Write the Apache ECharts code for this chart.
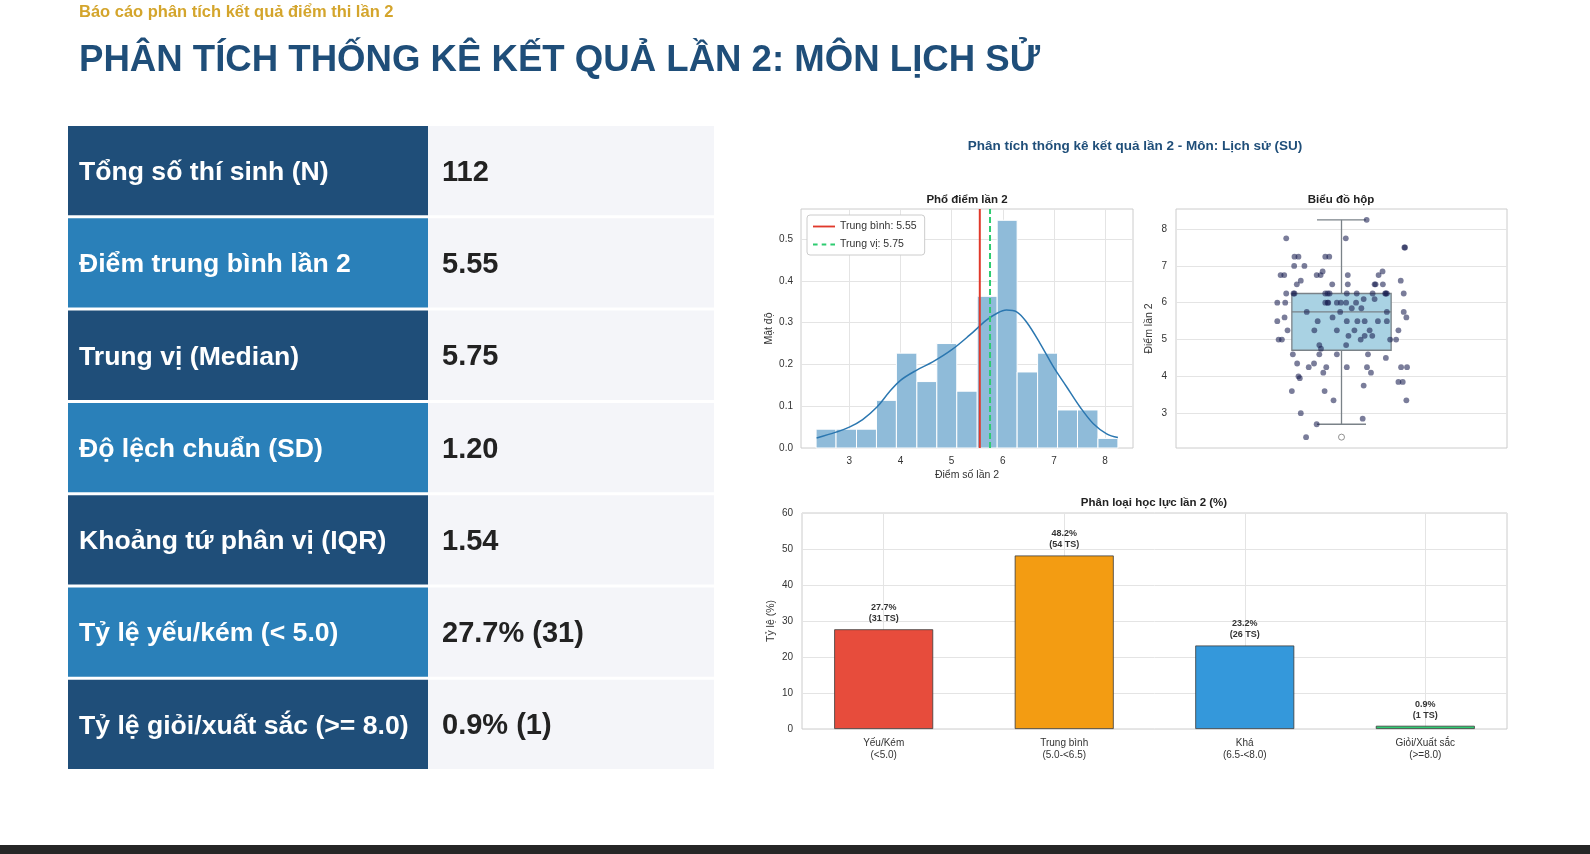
<!DOCTYPE html>
<html>
<head>
<meta charset="utf-8">
<script src="https://cdn.jsdelivr.net/npm/echarts@6/dist/echarts.min.js"></script>
<style>
html, body { margin: 0; padding: 0; background: #fff; }
#main { width: 1590px; height: 854px; }
</style>
</head>
<body>
<div id="main"></div>
<script>
var FONT = '"Liberation Sans", Arial, sans-serif';

// header texts
var subTitle = 'Báo cáo phân tích kết quả điểm thi lần 2';
var pageTitle = 'PHÂN TÍCH THỐNG KÊ KẾT QUẢ LẦN 2: MÔN LỊCH SỬ';
var figTitle = 'Phân tích thống kê kết quả lần 2 - Môn: Lịch sử (SU)';

// summary table
var statLabels = ['Tổng số thí sinh (N)', 'Điểm trung bình lần 2', 'Trung vị (Median)',
  'Độ lệch chuẩn (SD)', 'Khoảng tứ phân vị (IQR)', 'Tỷ lệ yếu/kém (< 5.0)', 'Tỷ lệ giỏi/xuất sắc (>= 8.0)'];
var statValues = ['112', '5.55', '5.75', '1.20', '1.54', '27.7% (31)', '0.9% (1)'];

// histogram (density) + kde
var binEdges = [2.35, 2.74, 3.14, 3.53, 3.92, 4.32, 4.71, 5.10, 5.50, 5.89, 6.28, 6.68, 7.07, 7.46, 7.86, 8.25];
var binDensity = [0.045, 0.045, 0.045, 0.114, 0.227, 0.159, 0.25, 0.136, 0.363, 0.545, 0.182, 0.227, 0.091, 0.091, 0.023];
var kdeX = [2.36, 2.74, 3.0, 3.26, 3.54, 3.78, 4.0, 4.31, 4.63, 4.99, 5.35, 5.68, 5.88, 6.07, 6.27, 6.46, 6.73, 6.99, 7.25, 7.51, 7.77, 8.03, 8.25];
var kdeY = [0.024, 0.038, 0.05, 0.068, 0.098, 0.134, 0.162, 0.186, 0.206, 0.234, 0.27, 0.306, 0.322, 0.33, 0.326, 0.302, 0.25, 0.194, 0.146, 0.098, 0.058, 0.034, 0.025];
var meanScore = 5.55;
var medianScore = 5.75;
var histTicksX = [3, 4, 5, 6, 7, 8];
var histTicksY = [0, 0.1, 0.2, 0.3, 0.4, 0.5];

// box plot + strip points
var boxQ1 = 4.71, boxMedian = 5.75, boxQ3 = 6.25, whiskerLow = 2.7, whiskerHigh = 8.25;
var outliers = [2.35];
var stripScores = [2.35, 2.70, 2.85, 3.00, 3.35, 3.35, 3.60, 3.60, 3.75, 3.85, 3.85,
  4.00, 3.95, 4.25, 4.25, 4.25, 4.25, 4.25, 4.25, 4.10, 4.10,
  4.35, 4.35, 4.60, 4.60, 4.60, 4.60, 4.50,
  4.85, 4.75, 4.85, 5.00, 5.00, 5.00, 5.00, 5.00, 5.10, 5.10, 5.10,
  5.25, 5.25, 5.25, 5.25, 5.25, 5.25,
  5.5, 5.5, 5.5, 5.5, 5.5, 5.5, 5.5, 5.6, 5.6, 5.6, 5.75, 5.75, 5.75, 5.75, 5.85, 5.85,
  6.0, 6.0, 6.0, 6.0, 6.0, 6.0, 6.0, 6.0, 6.0, 6.1, 6.1,
  6.25, 6.25, 6.25, 6.25, 6.25, 6.25, 6.25, 6.25, 6.25, 6.25, 6.25, 6.25, 6.25,
  6.5, 6.5, 6.5, 6.5, 6.5, 6.5, 6.6, 6.6,
  6.75, 6.75, 6.75, 6.75, 6.75, 6.75, 6.85, 6.85, 7.0, 7.0,
  7.25, 7.25, 7.25, 7.25, 7.5, 7.5, 7.75, 7.75, 8.25];
var stripJitter = [-0.107, -0.075, 0.064, -0.123, -0.024, 0.196, -0.150, -0.051, 0.067, 0.172, 0.185,
  -0.130, -0.126, -0.099, -0.046, 0.016, 0.077, 0.180, 0.198, -0.055, 0.089,
  -0.134, -0.083, -0.147, -0.067, -0.014, 0.080, 0.134,
  -0.067, -0.062, 0.014, -0.190, -0.180, 0.058, 0.147, 0.165, 0.021, 0.070, 0.093,
  -0.163, -0.082, -0.014, 0.039, 0.085, 0.172,
  -0.194, -0.072, 0.016, 0.048, 0.070, 0.110, 0.137, -0.172, -0.027, 0.196, -0.105, -0.004, 0.137, 0.188, 0.031, 0.060,
  -0.194, -0.170, -0.049, -0.042, -0.040, -0.014, -0.002, 0.014, 0.044, 0.067, 0.100,
  -0.167, -0.145, -0.142, -0.049, -0.042, -0.036, 0.016, 0.046, 0.094, 0.132, 0.134, 0.137, 0.188,
  -0.135, -0.028, 0.019, 0.100, 0.103, 0.125, -0.123, 0.179,
  -0.184, -0.173, -0.075, -0.063, 0.019, 0.112, -0.057, 0.124, -0.143, -0.112,
  -0.142, -0.130, -0.049, -0.037, 0.190, 0.192, -0.167, 0.013, 0.076];
var boxTicksY = [3, 4, 5, 6, 7, 8];

// classification bars
var levelNames = ['Yếu/Kém\n(<5.0)', 'Trung bình\n(5.0-<6.5)', 'Khá\n(6.5-<8.0)', 'Giỏi/Xuất sắc\n(>=8.0)'];
var levelPct = [27.7, 48.2, 23.2, 0.9];
var levelCount = [31, 54, 26, 1];
var levelColors = ['#e74c3c', '#f39c12', '#3498db', '#2ecc71'];

var myChart = echarts.init(document.getElementById('main'));

// ---- graphic: header, table, footer ----
var graphics = [];
graphics.push({ type: 'text', x: 79, y: 12, style: { text: subTitle, fill: '#d4a52c',
  font: 'bold 16.5px ' + FONT, textAlign: 'left', textVerticalAlign: 'middle', align: 'left', verticalAlign: 'middle' } });
graphics.push({ type: 'text', x: 79, y: 61, style: { text: pageTitle, fill: '#1f4e79',
  font: 'bold 36.6px ' + FONT, textAlign: 'left', textVerticalAlign: 'middle', align: 'left', verticalAlign: 'middle' } });

var rowTop = 126, rowPitch = 92.3, rowH = 89.3;
for (var i = 0; i < statLabels.length; i++) {
  var y0 = rowTop + i * rowPitch;
  graphics.push({ type: 'rect', shape: { x: 68, y: y0, width: 360, height: rowH },
    style: { fill: i % 2 === 0 ? '#1f4e79' : '#2a80b9' } });
  graphics.push({ type: 'rect', shape: { x: 428, y: y0, width: 286, height: rowH },
    style: { fill: '#f4f5f9' } });
  graphics.push({ type: 'text', x: 79, y: y0 + rowH / 2 + 2, style: { text: statLabels[i], fill: '#ffffff',
    font: 'bold 26.6px ' + FONT, textAlign: 'left', textVerticalAlign: 'middle', align: 'left', verticalAlign: 'middle' } });
  graphics.push({ type: 'text', x: 442, y: y0 + rowH / 2 + 2, style: { text: statValues[i], fill: '#222222',
    font: 'bold 29px ' + FONT, textAlign: 'left', textVerticalAlign: 'middle', align: 'left', verticalAlign: 'middle' } });
}

// figure and subplot titles
var titleSpecs = [
  [figTitle, 1135, 146, 'bold 13.5px ', '#1f4e79'],
  ['Phổ điểm lần 2', 967, 200, 'bold 11.5px ', '#222'],
  ['Biểu đồ hộp', 1341, 200, 'bold 11.5px ', '#222'],
  ['Phân loại học lực lần 2 (%)', 1154, 503, 'bold 11.5px ', '#222']
];
titleSpecs.forEach(function (t) {
  graphics.push({ type: 'text', x: t[1], y: t[2], style: { text: t[0], fill: t[4],
    font: t[3] + FONT, textAlign: 'center', textVerticalAlign: 'middle', align: 'center', verticalAlign: 'middle' } });
});

graphics.push({ type: 'rect', shape: { x: 0, y: 845, width: 1590, height: 9 }, style: { fill: '#262626' } });

// ---- series data built from arrays ----
var histData = binDensity.map(function (d, k) { return [binEdges[k], binEdges[k + 1], d]; });
var kdeData = kdeX.map(function (x, k) { return [x, kdeY[k]]; });
var stripData = stripScores.map(function (s, k) { return [stripJitter[k], s]; });
var outlierData = outliers.map(function (s) { return [0, s]; });
var barData = levelPct.map(function (p, k) {
  return { value: [k, p], itemStyle: { color: levelColors[k] } };
});

var HIST_YMAX = 0.572;
var gridLine = { show: true, lineStyle: { color: '#e4e4e4', width: 1 } };
var tickLabel = { fontSize: 10, color: '#333', fontFamily: FONT };
var axisName = { fontSize: 10.5, color: '#333', fontFamily: FONT };

var option = {
  animation: false,
  backgroundColor: '#ffffff',
  textStyle: { fontFamily: FONT },
  graphic: graphics,
  grid: [
    { left: 801, top: 209, width: 332, height: 239, show: true, borderColor: '#cccccc', borderWidth: 1, backgroundColor: '#fff' },
    { left: 1176, top: 209, width: 331, height: 239, show: true, borderColor: '#cccccc', borderWidth: 1, backgroundColor: '#fff' },
    { left: 802, top: 513, width: 705, height: 216, show: true, borderColor: '#cccccc', borderWidth: 1, backgroundColor: '#fff' }
  ],
  legend: {
    data: [
      { name: 'Trung bình: 5.55', icon: 'path://M0,0h24v2h-24z', itemStyle: { color: '#e0392b' } },
      { name: 'Trung vị: 5.75', icon: 'path://M0,0h5v2h-5z M9.5,0h5v2h-5z M19,0h5v2h-5z', itemStyle: { color: '#2ecc71' } }
    ],
    orient: 'vertical', left: 807, top: 215,
    padding: [6, 8, 5, 6], itemGap: 7, itemWidth: 22, itemHeight: 2,
    backgroundColor: '#ffffff', borderColor: '#cccccc', borderWidth: 1, borderRadius: 3,
    textStyle: { fontSize: 10.5, color: '#333' }
  },
  xAxis: [
    { gridIndex: 0, type: 'value', min: 2.055, max: 8.545,
      axisLine: { show: false }, axisTick: { show: false, customValues: histTicksX },
      axisLabel: Object.assign({ customValues: histTicksX, margin: 8 }, tickLabel),
      splitLine: gridLine,
      name: 'Điểm số lần 2', nameLocation: 'middle', nameGap: 22, nameTextStyle: axisName },
    { gridIndex: 1, type: 'value', min: -0.5, max: 0.5, show: false },
    { gridIndex: 2, type: 'value', min: -0.4525, max: 3.4525,
      axisLine: { show: false }, axisTick: { show: false, customValues: [0, 1, 2, 3] },
      axisLabel: Object.assign({ customValues: [0, 1, 2, 3], margin: 8, lineHeight: 12,
        formatter: function (v) { return levelNames[Math.round(v)]; } }, tickLabel),
      splitLine: gridLine }
  ],
  yAxis: [
    { gridIndex: 0, type: 'value', min: 0, max: HIST_YMAX,
      axisLine: { show: false }, axisTick: { show: false, customValues: histTicksY },
      axisLabel: Object.assign({ customValues: histTicksY, margin: 8,
        formatter: function (v) { return v.toFixed(1); } }, tickLabel),
      splitLine: gridLine,
      name: 'Mật độ', nameLocation: 'middle', nameGap: 26, nameRotate: 90, nameTextStyle: axisName },
    { gridIndex: 1, type: 'value', min: 2.055, max: 8.545,
      axisLine: { show: false }, axisTick: { show: false, customValues: boxTicksY },
      axisLabel: Object.assign({ customValues: boxTicksY, margin: 9 }, tickLabel),
      splitLine: gridLine,
      name: 'Điểm lần 2', nameLocation: 'middle', nameGap: 21, nameRotate: 90, nameTextStyle: axisName },
    { gridIndex: 2, type: 'value', min: 0, max: 60, interval: 10,
      axisLine: { show: false }, axisTick: { show: false },
      axisLabel: Object.assign({ margin: 9 }, tickLabel),
      splitLine: gridLine,
      name: 'Tỷ lệ (%)', nameLocation: 'middle', nameGap: 25, nameRotate: 90, nameTextStyle: axisName }
  ],
  series: [
    { type: 'custom', name: 'hist', xAxisIndex: 0, yAxisIndex: 0, data: histData,
      encode: { x: [0, 1], y: 2 }, z: 2,
      renderItem: function (params, api) {
        var a = api.coord([api.value(0), api.value(2)]);
        var b = api.coord([api.value(1), 0]);
        return { type: 'rect', shape: { x: a[0], y: a[1], width: b[0] - a[0], height: b[1] - a[1] },
          style: { fill: '#8fbbd9', stroke: '#ffffff', lineWidth: 1 } };
      } },
    { type: 'line', name: 'kde', xAxisIndex: 0, yAxisIndex: 0, data: kdeData, smooth: 0.35,
      symbol: 'none', z: 3, lineStyle: { color: '#2b77b0', width: 1.5 } },
    { type: 'line', name: 'Trung bình: 5.55', xAxisIndex: 0, yAxisIndex: 0,
      data: [[meanScore, 0], [meanScore, HIST_YMAX]], symbol: 'none', z: 4,
      itemStyle: { color: '#e0392b' }, lineStyle: { color: '#e0392b', width: 2 } },
    { type: 'line', name: 'Trung vị: 5.75', xAxisIndex: 0, yAxisIndex: 0,
      data: [[medianScore, 0], [medianScore, HIST_YMAX]], symbol: 'none', z: 4,
      itemStyle: { color: '#2ecc71' }, lineStyle: { color: '#2ecc71', width: 2, type: [6, 3] } },
    { type: 'custom', name: 'box', xAxisIndex: 1, yAxisIndex: 1,
      data: [[0, whiskerLow, boxQ1, boxMedian, boxQ3, whiskerHigh]],
      encode: { x: 0, y: [1, 2, 3, 4, 5] }, z: 2,
      renderItem: function (params, api) {
        var x = api.value(0), half = 0.15, cap = 0.074;
        var stroke = { stroke: '#7a8288', lineWidth: 1.3 };
        var pLo = api.coord([x, api.value(1)]), pQ1 = api.coord([x, api.value(2)]);
        var pMed = api.coord([x, api.value(3)]), pQ3 = api.coord([x, api.value(4)]);
        var pHi = api.coord([x, api.value(5)]);
        var xl = api.coord([x - half, 0])[0], xr = api.coord([x + half, 0])[0];
        var cl = api.coord([x - cap, 0])[0], cr = api.coord([x + cap, 0])[0];
        return { type: 'group', children: [
          { type: 'line', shape: { x1: pLo[0], y1: pLo[1], x2: pQ1[0], y2: pQ1[1] }, style: stroke },
          { type: 'line', shape: { x1: pQ3[0], y1: pQ3[1], x2: pHi[0], y2: pHi[1] }, style: stroke },
          { type: 'line', shape: { x1: cl, y1: pLo[1], x2: cr, y2: pLo[1] }, style: stroke },
          { type: 'line', shape: { x1: cl, y1: pHi[1], x2: cr, y2: pHi[1] }, style: stroke },
          { type: 'rect', shape: { x: xl, y: pQ3[1], width: xr - xl, height: pQ1[1] - pQ3[1] },
            style: { fill: '#a9d2e3', stroke: '#7a8288', lineWidth: 1.3 } },
          { type: 'line', shape: { x1: xl, y1: pMed[1], x2: xr, y2: pMed[1] }, style: stroke }
        ] };
      } },
    { type: 'scatter', name: 'outlier', xAxisIndex: 1, yAxisIndex: 1, data: outlierData,
      symbol: 'circle', symbolSize: 6, z: 3,
      itemStyle: { color: '#ffffff', borderColor: '#777', borderWidth: 1 } },
    { type: 'scatter', name: 'points', xAxisIndex: 1, yAxisIndex: 1, data: stripData,
      symbol: 'circle', symbolSize: 5.8, z: 4,
      itemStyle: { color: 'rgba(24,30,80,0.72)' } },
    { type: 'bar', name: 'levels', xAxisIndex: 2, yAxisIndex: 2, data: barData, barWidth: 99,
      itemStyle: { borderColor: '#3a3a3a', borderWidth: 0.8 },
      label: { show: true, position: 'top', distance: 5, fontSize: 9, fontWeight: 'bold',
        color: '#333', lineHeight: 11,
        formatter: function (p) { return levelPct[p.dataIndex] + '%\n(' + levelCount[p.dataIndex] + ' TS)'; } } }
  ]
};

myChart.setOption(option);
</script>
</body>
</html>
